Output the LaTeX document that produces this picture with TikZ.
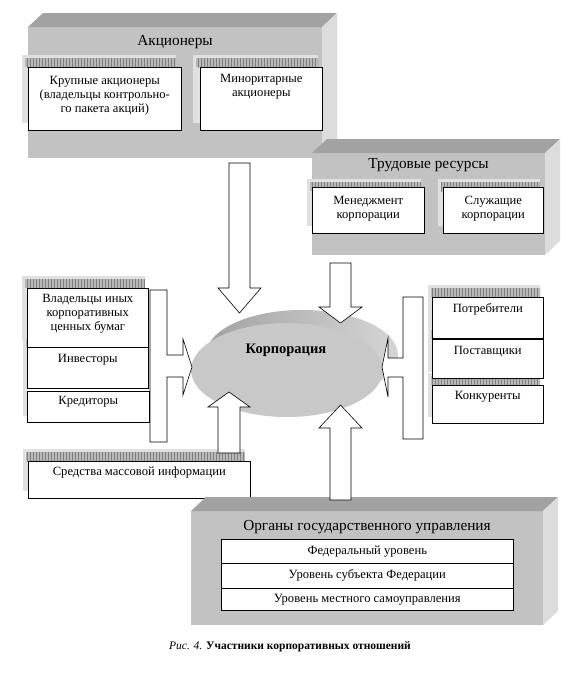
\documentclass[tikz,border=0pt]{standalone}
\usepackage{fontspec}
\setmainfont{Liberation Serif}
\usetikzlibrary{patterns}
\usetikzlibrary{shapes.geometric}

\definecolor{frontgray}{HTML}{C2C2C2}
\definecolor{topgray}{HTML}{A2A2A2}
\definecolor{sidegray}{HTML}{DCDCDC}
\definecolor{discgray}{HTML}{C8C8C8}
\definecolor{rimgray}{HTML}{A2A2A2}

% 3D block: front face, top face, side face
\newcommand{\slab}[4]{%
	\fill[frontgray] (#1,#2) rectangle (#3,#4);
	\fill[topgray] (#1,#2) -- (#1+15,#2-14) -- (#3+15,#2-14) -- (#3,#2) -- cycle;
	\fill[sidegray] (#3,#2) -- (#3+15,#2-14) -- (#3+15,#4-14) -- (#3,#4) -- cycle;}
% hatched shadow behind a white box
\newcommand{\hatch}[4]{%
	\fill[shadowlight] (#1,#2) rectangle (#3,#4);
	\fill[shadowband] (#1+3,#2+3) rectangle (#3,#2+12);}

\tikzset{
	whitebox/.style={draw, fill=white, line width=0.6pt, inner sep=0pt, anchor=north west},
	boxtext/.style={font=\fontsize{12.6}{14}\selectfont, align=center, inner sep=0pt},
	title/.style={font=\fontsize{15.3}{17}\selectfont, inner sep=0pt},
	blockarrow/.style={draw, fill=white, line width=0.6pt, line join=miter},
	shadowlight/.style={fill=black!12},
	shadowband/.style={fill=black!28, postaction={pattern=vertical lines, pattern color=black!50}}
}

\begin{document}
\begin{tikzpicture}[x=1pt,y=-1pt]
	\fill[white] (0,0) rectangle (567,680);
	\useasboundingbox (0,0) rectangle (567,680);
	
	% shareholders
	\slab{28}{27}{322}{158}
	\node[title] (share) at (175,42) {Акционеры};
	\hatch{22}{55}{176}{123}
	\hatch{193}{55}{318}{123}
	\node[whitebox, minimum width=153pt, minimum height=63pt] (major) at (28,67) {};
	\node[boxtext, below=9pt] (major-t) at (major.north) {Крупные акционеры\\(владельцы контрольно-\\го пакета акций)};
	\node[whitebox, minimum width=122pt, minimum height=63pt] (minor) at (200,67) {};
	\node[boxtext, below=7pt] (minor-t) at (minor.north) {Миноритарные\\акционеры};
	
	% labour
	\slab{312}{153}{545}{255}
	\node[title] (labour) at (428.5,165) {Трудовые ресурсы};
	\hatch{307}{179}{421}{226}
	\hatch{438}{179}{540}{226}
	\node[whitebox, minimum width=112pt, minimum height=46pt] (manage) at (312,187) {};
	\node[boxtext, below=9pt] (manage-t) at (manage.north) {Менеджмент\\корпорации};
	\node[whitebox, minimum width=100pt, minimum height=46pt] (staff) at (443,187) {};
	\node[boxtext, below=9pt] (staff-t) at (staff.north) {Служащие\\корпорации};
	
	% left group
	\hatch{22}{276}{145}{340}
	\hatch{23}{335}{145}{382}
	\fill[shadowlight] (23,382) rectangle (27,416);
	\node[whitebox, minimum width=121pt, minimum height=59pt] (holders) at (27,288) {};
	\node[boxtext, below=6pt] (holders-t) at (holders.north) {Владельцы иных\\корпоративных\\ценных бумаг};
	\node[whitebox, minimum width=121pt, minimum height=41pt] (invest) at (27,347) {};
	\node[boxtext, below=7pt] (invest-t) at (invest.north) {Инвесторы};
	\node[whitebox, minimum width=122pt, minimum height=31pt] (credit) at (27,391) {};
	\node[boxtext, below=5pt] (credit-t) at (credit.north) {Кредиторы};
	
	% media
	\hatch{23}{449}{245}{491}
	\node[whitebox, minimum width=222pt, minimum height=37pt] (media) at (28,461) {};
	\node[boxtext, below=6pt] (media-t) at (media.north) {Средства массовой информации};
	
	% right group
	\hatch{428}{285}{540}{330}
	\hatch{428}{327}{540}{372}
	\hatch{428}{373}{540}{417}
	\node[whitebox, minimum width=111pt, minimum height=41pt] (consum) at (432,297) {};
	\node[boxtext, below=6pt] (consum-t) at (consum.north) {Потребители};
	\node[whitebox, minimum width=111pt, minimum height=39pt] (supply) at (432,339) {};
	\node[boxtext, below=7pt] (supply-t) at (supply.north) {Поставщики};
	\node[whitebox, minimum width=111pt, minimum height=38pt] (rival) at (432,385) {};
	\node[boxtext, below=6pt] (rival-t) at (rival.north) {Конкуренты};
	
	% state bodies
	\slab{191}{511}{543}{625}
	\node[title] (state) at (367,527) {Органы государственного управления};
	\node[whitebox, boxtext, minimum width=292pt, minimum height=24pt] (federal) at (221,539) {Федеральный уровень};
	\node[whitebox, boxtext, minimum width=292pt, minimum height=25pt] (region) at (221,563) {Уровень субъекта Федерации};
	\node[whitebox, boxtext, minimum width=292pt, minimum height=22pt] (local) at (221,588) {Уровень местного самоуправления};
	
	% corporation
	\shade[left color=rimgray, right color=rimgray!45!white] (302,355) ellipse [x radius=96pt, y radius=45pt];
	\fill[discgray] (287,370) ellipse [x radius=96pt, y radius=47pt];
	
	% block arrows
	\draw[blockarrow] (229,163) -- (250,163) -- (250,288) -- (261,288) -- (239.5,313) -- (218,288) -- (229,288) -- cycle;
	\draw[blockarrow] (330,263) -- (351,263) -- (351,307) -- (362,307) -- (340.5,323) -- (319,307) -- (330,307) -- cycle;
	\draw[blockarrow] (218,453) -- (240,453) -- (240,407) -- (250,407) -- (229,392) -- (208,407) -- (218,407) -- cycle;
	\draw[blockarrow] (330,500) -- (351,500) -- (351,428) -- (362,428) -- (340.5,405) -- (319,428) -- (330,428) -- cycle;
	\draw[blockarrow] (150,290) -- (167,290) -- (167,355) -- (183,355) -- (183,339) -- (192,367)
		-- (183,395) -- (183,377) -- (167,377) -- (167,442) -- (150,442) -- cycle;
	\draw[blockarrow] (423,297) -- (403,297) -- (403,358) -- (388,358) -- (388,338) -- (382,367)
		-- (388,397) -- (388,377) -- (403,377) -- (403,439) -- (423,439) -- cycle;
	
	\node[font=\bfseries\fontsize{14.5}{17}\selectfont, inner sep=0pt] (corp) at (286,350) {Корпорация};
	
	\node[font=\fontsize{11.5}{13}\selectfont, inner sep=0pt] (caption) at (290,647) {\textit{Рис. 4.} \textbf{Участники корпоративных отношений}};
\end{tikzpicture}
\end{document}
